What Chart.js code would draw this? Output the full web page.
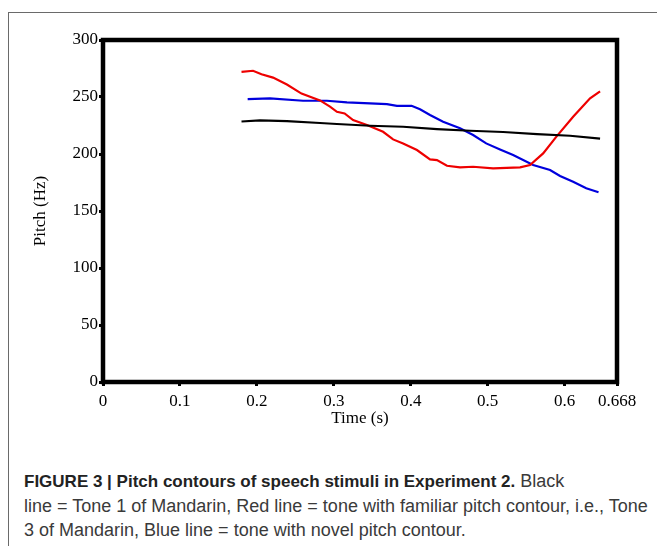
<!DOCTYPE html>
<html>
<head>
<meta charset="utf-8">
<script src="https://cdn.jsdelivr.net/npm/chart.js@4"></script>
<style>
  html, body { margin: 0; padding: 0; background: #fff; }
  body { width: 657px; height: 546px; position: relative; overflow: hidden; }
  .frame {
    position: absolute; left: 8px; top: 12px; width: 700px; height: 600px;
    border-left: 1px solid #6a6a6a; border-top: 1px solid #6a6a6a;
  }
  .chart-box { position: absolute; left: 0; top: 0; width: 657px; height: 440px; }
  .caption {
    position: absolute; left: 24px; top: 469px; width: 640px; white-space: nowrap;
    font-family: "Liberation Sans", Arial, sans-serif; font-size: 18px;
    line-height: 24px; color: #3a3a3a;
  }
  .caption b { color: #222; font-size: 17px; }
</style>
</head>
<body>
<div class="frame"></div>
<div class="chart-box"><canvas id="pitchChart" width="657" height="440"></canvas></div>
<div class="caption">
  <b>FIGURE 3 | Pitch contours of speech stimuli in Experiment 2.</b> Black<br>
  line = Tone 1 of Mandarin, Red line = tone with familiar pitch contour, i.e., Tone<br>
  3 of Mandarin, Blue line = tone with novel pitch contour.
</div>
<script>
// ========== Data (time in s, pitch in Hz) ==========
const tone1Time  = [0.180, 0.204, 0.239, 0.282, 0.304, 0.347, 0.390, 0.434, 0.477, 0.520, 0.564, 0.607, 0.646];
const tone1Pitch = [228.5, 229.5, 228.8, 227.2, 226.3, 224.8, 223.9, 221.9, 220.4, 219.3, 217.5, 216.0, 213.5];

const redTime  = [0.180, 0.195, 0.206, 0.221, 0.239, 0.258, 0.282, 0.295, 0.304, 0.314, 0.325, 0.343, 0.364,
                  0.377, 0.390, 0.408, 0.425, 0.434, 0.447, 0.464, 0.481, 0.507, 0.542, 0.555, 0.572, 0.589,
                  0.611, 0.633, 0.646];
const redPitch = [272.0, 273.0, 270.0, 267.0, 261.0, 253.0, 247.0, 241.5, 237.0, 235.6, 229.8, 225.4, 219.5,
                  212.8, 209.3, 203.5, 195.3, 194.7, 189.7, 188.3, 188.8, 187.4, 188.3, 190.3, 200.5, 215.0,
                  232.7, 248.8, 255.0];

const blueTime  = [0.188, 0.217, 0.260, 0.291, 0.317, 0.347, 0.369, 0.382, 0.401, 0.412, 0.425, 0.442, 0.464,
                   0.481, 0.498, 0.516, 0.533, 0.559, 0.581, 0.594, 0.611, 0.628, 0.644];
const bluePitch = [248.2, 248.8, 246.7, 246.7, 245.3, 244.4, 243.8, 242.3, 242.3, 239.2, 234.2, 228.3, 222.5,
                   216.6, 209.3, 204.0, 199.1, 190.3, 186.0, 180.7, 175.7, 169.9, 166.5];

const xTickValues = [0, 0.1, 0.2, 0.3, 0.4, 0.5, 0.6, 0.668];
const xTickLabels = ['0', '0.1', '0.2', '0.3', '0.4', '0.5', '0.6', '0.668'];
const yTickValues = [0, 50, 100, 150, 200, 250, 300];

const toPoints = (xs, ys) => xs.map((x, i) => ({ x: x, y: ys[i] }));

// ========== Box frame around the plot ==========
const boxFrame = {
  id: 'boxFrame',
  afterDatasetsDraw(chart) {
    const a = chart.chartArea;
    const ctx = chart.ctx;
    ctx.save();
    ctx.strokeStyle = '#000';
    ctx.lineWidth = 4.5;
    ctx.strokeRect(a.left, a.top, a.right - a.left, a.bottom - a.top);
    ctx.restore();
  }
};

const serif = { family: '"Liberation Serif", "Times New Roman", serif', size: 17 };

new Chart(document.getElementById('pitchChart'), {
  type: 'line',
  data: {
    datasets: [
      { label: 'Tone 1', data: toPoints(tone1Time, tone1Pitch), borderColor: '#000000', borderWidth: 2.2 },
      { label: 'Familiar', data: toPoints(redTime, redPitch), borderColor: '#ee0000', borderWidth: 2.2 },
      { label: 'Novel', data: toPoints(blueTime, bluePitch), borderColor: '#0000dd', borderWidth: 2.2 }
    ]
  },
  options: {
    responsive: false,
    animation: false,
    elements: { point: { radius: 0 }, line: { tension: 0 } },
    layout: { padding: { left: 0, top: 40, right: 40, bottom: 0 } },
    plugins: { legend: { display: false }, tooltip: { enabled: false } },
    scales: {
      x: {
        type: 'linear',
        min: 0,
        max: 0.668,
        afterBuildTicks: s => { s.ticks = xTickValues.map(v => ({ value: v })); },
        afterFit: s => { s.height = 58; },
        ticks: {
          color: '#000', font: serif, padding: 5, maxRotation: 0, autoSkip: false,
          callback: (v, i) => xTickLabels[i]
        },
        grid: { drawOnChartArea: false, drawTicks: true, tickLength: 4, tickWidth: 3, color: '#000' },
        border: { display: false },
        title: { display: true, text: 'Time (s)', color: '#000', font: serif, padding: { top: 0, bottom: 11 } }
      },
      y: {
        min: 0,
        max: 300,
        afterBuildTicks: s => { s.ticks = yTickValues.map(v => ({ value: v })); },
        afterFit: s => { s.width = 103; },
        ticks: { color: '#000', font: serif, padding: 1 },
        grid: { drawOnChartArea: false, drawTicks: true, tickLength: 4, tickWidth: 3, color: '#000' },
        border: { display: false },
        title: { display: true, text: 'Pitch (Hz)', color: '#000', font: serif, padding: { top: 30, bottom: 0 } }
      }
    }
  },
  plugins: [boxFrame]
});
</script>
</body>
</html>
